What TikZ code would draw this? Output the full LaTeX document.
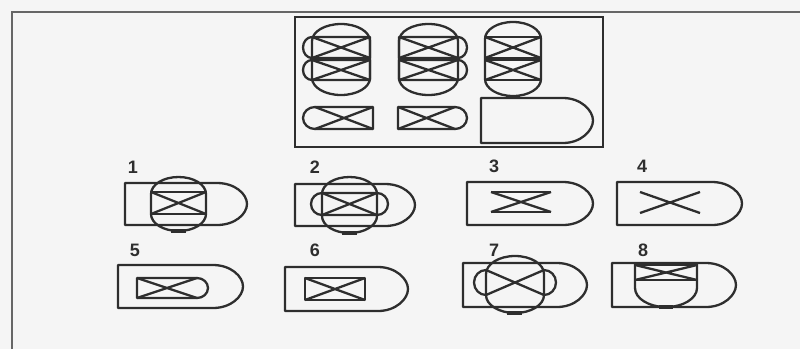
\documentclass[tikz,border=0pt]{standalone}
\usepackage{fontspec}
\setmainfont{Liberation Sans}

\tikzset{
  figline/.style={line width=2.3pt,black!82,line join=round},
  boxline/.style={line width=2.6pt,black!82},
  numlabel/.style={font=\fontsize{18}{21}\selectfont\bfseries,black!82},
}

% shield: left, top, bottom, tip
\newcommand{\shieldfig}[4]{%
  \draw[figline] (#4-30,#2) -- (#1,#2) -- (#1,#3) -- (#4-30,#3)
    .. controls (#4-12,#3) and (#4,{(#2+#3)/2+10}) .. (#4,{(#2+#3)/2})
    .. controls (#4,{(#2+#3)/2-10}) and (#4-12,#2) .. cycle;}
% capsule: left, right, top, bottom, cap height
\newcommand{\capsulefig}[5]{%
  \draw[figline] (#1,#4-#5) -- (#1,#3+#5) arc (180:360:{(#2-#1)/2} and #5)
    -- (#2,#4-#5) arc (0:180:{(#2-#1)/2} and #5) -- cycle;}
% crossed boxes: left, right, top, bottom (, end width)
\newcommand{\crossfig}[4]{%
  \draw[figline] (#1,#3) -- (#2,#4) (#1,#4) -- (#2,#3);}
\newcommand{\xboxfig}[4]{%
  \draw[figline] (#1,#3) rectangle (#2,#4);
  \crossfig{#1}{#2}{#3}{#4}}
\newcommand{\xboxleft}[5]{%
  \draw[figline] (#1,#3) arc (270:90:#5 and {(#4-#3)/2}) -- (#2,#4) -- (#2,#3) -- cycle;
  \crossfig{#1}{#2}{#3}{#4}}
\newcommand{\xboxright}[5]{%
  \draw[figline] (#2,#3) arc (-90:90:#5 and {(#4-#3)/2}) -- (#1,#4) -- (#1,#3) -- cycle;
  \crossfig{#1}{#2}{#3}{#4}}
\newcommand{\xboxboth}[5]{%
  \draw[figline] (#1,#3) -- (#2,#3) arc (-90:90:#5 and {(#4-#3)/2})
    -- (#1,#4) arc (90:270:#5 and {(#4-#3)/2}) -- cycle;
  \crossfig{#1}{#2}{#3}{#4}}

\begin{document}
\begin{tikzpicture}[x=1pt,y=-1pt]
\useasboundingbox (0,0) rectangle (800,349);
\fill[black!4] (0,0) rectangle (800,349);

% outer frame
\draw[line width=2.2pt,black!60] (12,349) -- (12,12) -- (800,12);

% matrix
\draw[boxline] (295,17) rectangle (603,147);
\capsulefig{312}{370}{24}{95}{17}
\xboxleft{312}{370}{37}{58}{9}
\xboxleft{312}{370}{60}{80}{9}
\capsulefig{399}{458}{24}{95}{17}
\xboxright{399}{458}{37}{58}{9}
\xboxright{399}{458}{60}{80}{9}
\capsulefig{485}{541}{22}{96}{17}
\xboxfig{485}{541}{37}{58}
\xboxfig{485}{541}{60}{80}
\xboxleft{315}{373}{107}{129}{12}
\xboxright{398}{455}{107}{129}{12}
\shieldfig{481}{98}{143}{593}
\draw[line width=3pt,black!82] (506,97) -- (520,97);

% answer labels
\node[numlabel] (n1) at (133,167) {1};
\node[numlabel] (n2) at (315,167) {2};
\node[numlabel] (n3) at (494,166) {3};
\node[numlabel] (n4) at (642,166) {4};
\node[numlabel] (n5) at (135,250) {5};
\node[numlabel] (n6) at (315,250) {6};
\node[numlabel] (n7) at (494,250) {7};
\node[numlabel] (n8) at (643,250) {8};

% option 1
\shieldfig{125}{183}{225}{247}
\capsulefig{151}{206}{177}{231}{17}
\xboxfig{151}{206}{192}{214}
\draw[line width=3.4pt,black!82] (171,231) -- (186,231);

% option 2
\shieldfig{295}{184}{226}{415}
\capsulefig{322}{377}{177}{233}{17}
\xboxboth{322}{377}{193}{215}{11}
\draw[line width=3.4pt,black!82] (342,233) -- (357,233);

% option 3
\shieldfig{467}{182}{225}{593}
\draw[figline] (491,192) -- (551,192) (491,212) -- (551,212);
\crossfig{491}{551}{192}{212}

% option 4
\shieldfig{617}{182}{225}{742}
\crossfig{640}{700}{192}{213}

% option 5
\shieldfig{118}{265}{308}{243}
\xboxright{137}{197}{278}{298}{11}

% option 6
\shieldfig{285}{267}{311}{408}
\xboxfig{305}{365}{278}{300}

% option 7
\shieldfig{463}{263}{307}{587}
\capsulefig{486}{544}{256}{313}{18}
\draw[figline] (486,270) arc (270:90:12 and 12.5);
\draw[figline] (544,270) arc (-90:90:12 and 12.5);
\crossfig{486}{544}{270}{295}
\draw[line width=3.4pt,black!82] (507,313) -- (522,313);

% option 8
\shieldfig{612}{263}{307}{736}
\draw[figline] (635,263) -- (635,288) arc (180:0:31 and 19) -- (697,263);
\draw[figline] (635,265) -- (697,265) (635,280) -- (697,280);
\crossfig{635}{697}{265}{280}
\draw[line width=3.4pt,black!82] (659,307) -- (673,307);
\end{tikzpicture}
\end{document}
